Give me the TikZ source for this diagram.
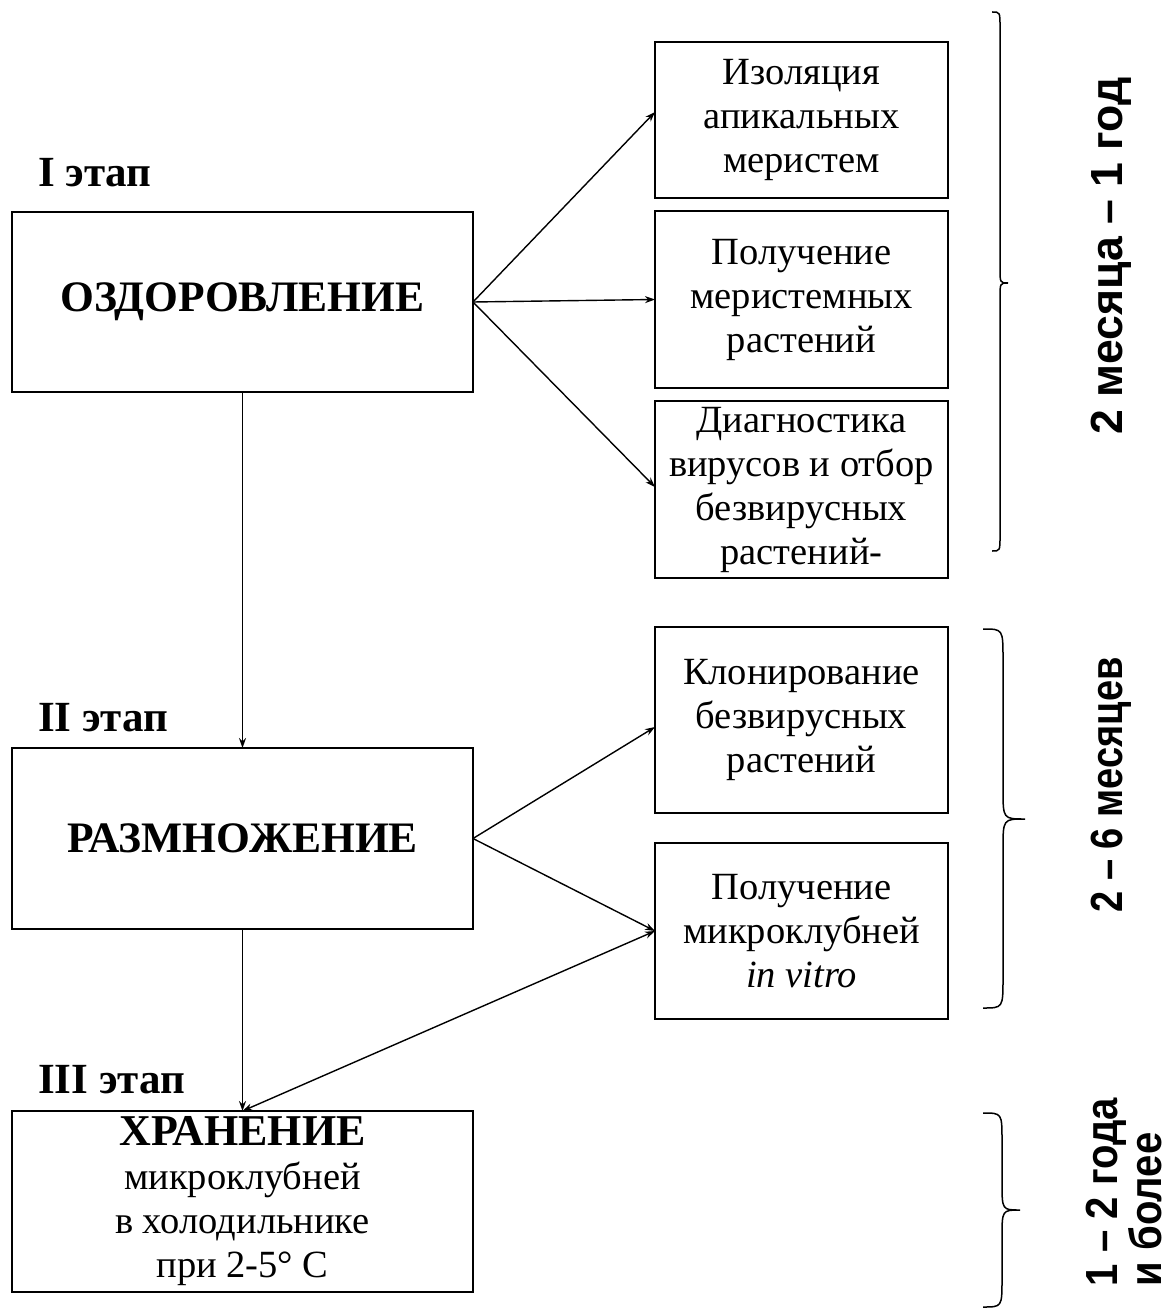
\documentclass[tikz,border=0pt]{standalone}
\usepackage{fontspec}
\setmainfont{Liberation Serif}
\newfontfamily\arialfont{Liberation Sans}
\usetikzlibrary{arrows.meta}
\newcommand\drawbrace[7]{%
  \draw[braceline] (#1,#4) .. controls (#2,#4) and (#2,#4) .. (#2,{#4+#7})
    -- (#2,{#5-#7}) .. controls (#2,#5) and (#2,#5) .. (#3,#5)
    .. controls (#2,#5) and (#2,#5) .. (#2,{#5+#7})
    -- (#2,{#6-#7}) .. controls (#2,#6) and (#2,#6) .. (#1,#6);}
\begin{document}
\begin{tikzpicture}[x=1pt,y=-1pt,
  box/.style={draw, line width=1.8pt, inner sep=0pt, outer sep=0pt, align=center,
              font=\fontsize{38.5}{44}\selectfont},
  bigbox/.style={box, minimum width=461pt, minimum height=#1},
  smallbox/.style={box, minimum width=293pt, minimum height=#1},
  stage/.style={anchor=base west, inner sep=0pt, font=\fontsize{43}{44}\selectfont\bfseries},
  arr/.style={line width=1.4pt, -{Stealth[length=10pt,width=7pt]}},
  darr/.style={line width=1.4pt, {Stealth[length=10pt,width=7pt]}-{Stealth[length=10pt,width=7pt]}},
  braceline/.style={line width=1.5pt},
  period/.style={rotate=90, inner sep=0pt, align=left, text depth=0pt,
                 font=\arialfont\bfseries\fontsize{45}{44}\selectfont}]
\useasboundingbox (0,0) rectangle (1174,1313);
\fill[white] (0,0) rectangle (1174,1313);

% left column
\node[bigbox=180pt] (oz) at (242.5,302) {\fontsize{43.5}{44}\selectfont\bfseries ОЗДОРОВЛЕНИЕ};
\node[bigbox=181pt] (raz) at (242.5,838.5) {\fontsize{43.5}{44}\selectfont\bfseries РАЗМНОЖЕНИЕ};
\node[bigbox=181pt] (hr) at (242.5,1201.5) {{\fontsize{44}{44}\selectfont\bfseries ХРАНЕНИЕ}\\микроклубней\\в холодильнике\\при 2-5° С};

\node[stage] (s1) at (38,187) {I этап};
\node[stage] (s2) at (38,731) {II этап};
\node[stage] (s3) at (38,1093) {III этап};

% right column
\node[smallbox=156pt] (r1) at (801.5,120) {Изоляция\\апикальных\\меристем};
\node[smallbox=177pt] (r2) at (801.5,299.5) {Получение\\меристемных\\растений};
\node[smallbox=177pt] (r3) at (801.5,489.5) {Диагностика\\вирусов и отбор\\безвирусных\\растений-};
\node[smallbox=186pt] (r4) at (801.5,720) {Клонирование\\безвирусных\\растений};
\node[smallbox=176pt] (r5) at (801.5,931) {Получение\\микроклубней\\\textit{in vitro}};

% connectors
\draw[arr] (oz.east) -- ([yshift=8pt]r1.west);
\draw[arr] (oz.east) -- (r2.west);
\draw[arr] (oz.east) -- ([yshift=2.5pt]r3.west);
\draw[arr] (oz.south) -- (raz.north);
\draw[arr] (raz.east) -- ([yshift=-7pt]r4.west);
\draw[arr] (raz.east) -- (r5.west);
\draw[arr] (raz.south) -- (hr.north);
\draw[darr] (r5.west) -- (hr.north);

% braces
\drawbrace{992}{1000}{1008}{12}{283}{551}{15}
\drawbrace{983}{1003}{1025}{629}{819}{1008}{30}
\drawbrace{983}{1002}{1020}{1113}{1210}{1307}{28}

% periods
\node[period] (p1) at (1107,256) {\scalebox{0.99}[1]{2 месяца – 1 год}};
\node[period] (p2) at (1107,785) {\scalebox{0.845}[1]{2 – 6 месяцев}};
\node[period] (p3) at (1124,1192) {\scalebox{0.89}[1]{1 – 2 года}\\\scalebox{0.89}[1]{и более}};
\end{tikzpicture}
\end{document}
